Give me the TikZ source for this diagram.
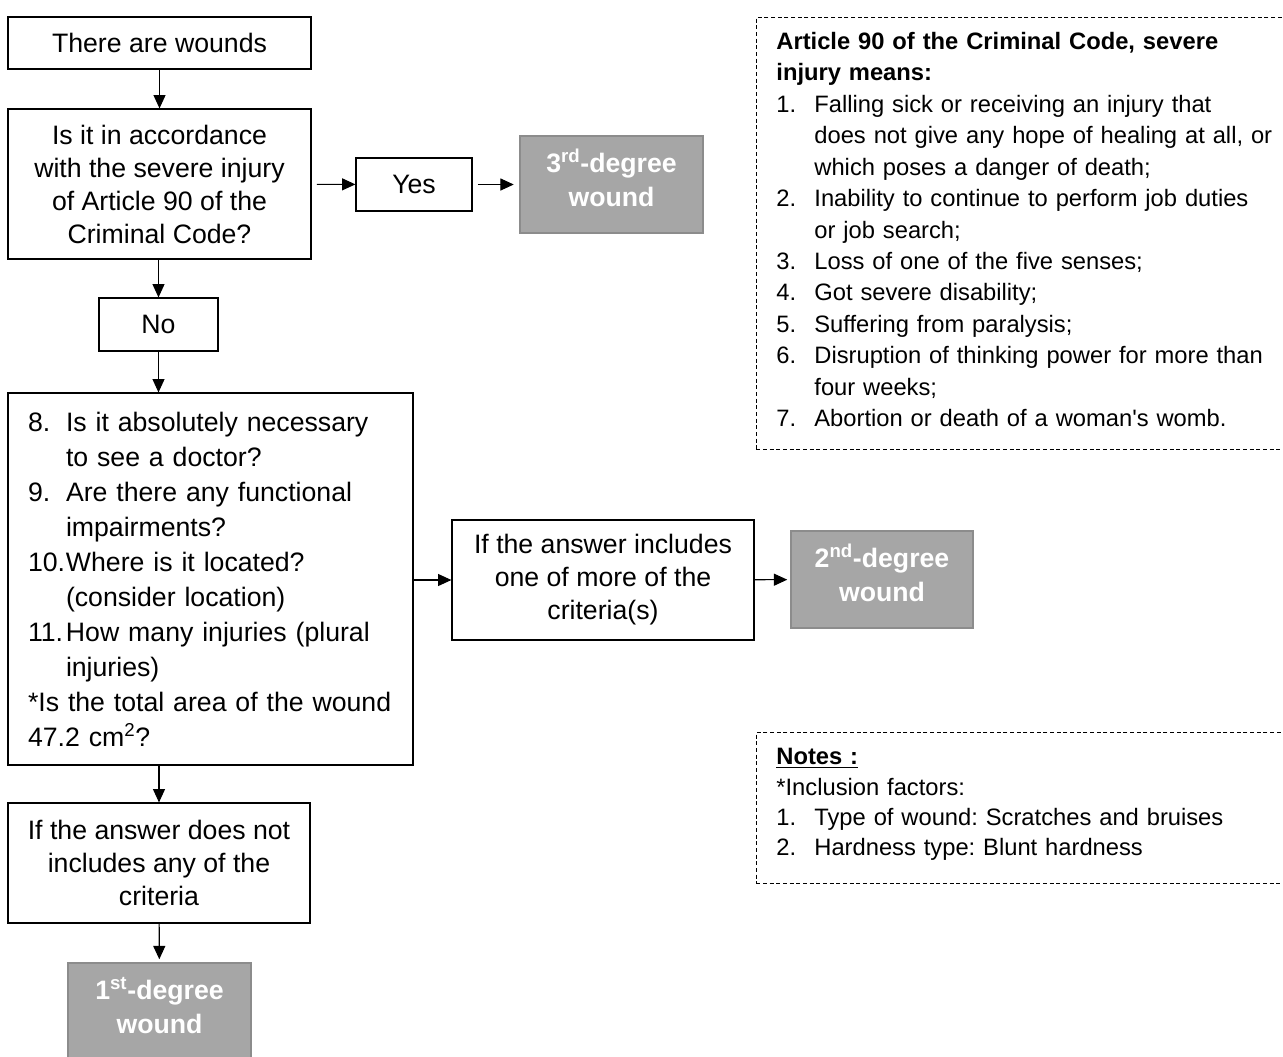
\documentclass[tikz,border=0pt]{standalone}
\usepackage{fontspec}
\setmainfont{Liberation Sans}
\usetikzlibrary{arrows.meta, positioning, calc}

\definecolor{degreefill}{HTML}{A6A6A6}
\definecolor{degreeline}{HTML}{8C8C8C}
\newcommand{\numitem}[1]{\makebox[28.5pt][l]{#1}}
\newcommand{\supr}[1]{\smash{\textsuperscript{#1}}}
\newcommand{\lowstrut}[1]{\rule[-#1]{0pt}{#1}}
\frenchspacing

\begin{document}
\begin{tikzpicture}[
    x = 0.75pt, y = -0.75pt,
    every node/.style = {inner sep = 0pt, align = center,
      font = \fontsize{20}{24.75}\selectfont},
    stepbox/.style = {draw, line width = 0.9pt},
    degreebox/.style = {draw = degreeline, fill = degreefill, line width = 1.6pt,
      text = white, font = \fontsize{20}{25.5}\selectfont\bfseries,
      text depth = 7.5pt,
      minimum width = 137pt, minimum height = 72.75pt},
    notebox/.style = {draw, dashed, dash pattern = on 3pt off 2pt, line width = 0.6pt,
      align = left, anchor = north west, font = \fontsize{17.8}{23.6}\selectfont},
    flow/.style = {-{Triangle[length = 10pt, width = 9pt]}, line width = 0.8pt}
  ]
  \useasboundingbox (0,0) rectangle (1283,1057);

  % main column
  \node[stepbox, minimum width = 227.25pt, minimum height = 39pt]
    (wounds) at (159.5,43) {There are wounds};
  \node[stepbox, minimum width = 227.25pt, minimum height = 112.5pt]
    (question) at (159.5,184) {Is it in accordance\\with the severe injury\\of Article 90 of the\\Criminal Code?};
  \node[stepbox, minimum width = 87pt, minimum height = 39.75pt]
    (yes) at (414,184.5) {Yes};
  \node[degreebox] (third) at (611.5,184.5) {3\supr{rd}-degree\\wound};
  \node[stepbox, minimum width = 89.25pt, minimum height = 39.75pt]
    (no) at (158.5,324.5) {No};
  \node[stepbox, minimum width = 303.75pt, minimum height = 279pt,
      inner xsep = 15pt, text width = 273.75pt, align = left,
      font = \fontsize{20}{26.25}\selectfont]
    (checks) at (210.5,579) {%
      \numitem{8.}Is it absolutely necessary\\
      \numitem{}to see a doctor?\\
      \numitem{9.}Are there any functional\\
      \numitem{}impairments?\\
      \numitem{10.}Where is it located?\\
      \numitem{}(consider location)\\
      \numitem{11.}How many injuries (plural\\
      \numitem{}injuries)\\
      {*}Is the total area of the wound\\
      47.2 cm\supr{2}?};
  \node[stepbox, minimum width = 226.5pt, minimum height = 90pt]
    (criteria) at (603,580) {If the answer includes\\one of more of the\\criteria(s)};
  \node[degreebox, minimum width = 136.5pt] (second) at (882,579.5) {2\supr{nd}-degree\\wound};
  \node[stepbox, minimum width = 226.5pt, minimum height = 90pt]
    (nocrit) at (159,863) {If the answer does not\\includes any of the\\criteria};
  \node[degreebox] (first) at (159.5,1011.5) {1\supr{st}-degree\\wound};

  % side notes
  \node[notebox, minimum width = 405pt, minimum height = 324pt,
      inner xsep = 15pt, text width = 420pt]
    (article) at (756,17) {%
      \textbf{Article 90 of the Criminal Code, severe}\\
      \textbf{injury means:}\\
      \numitem{1.}Falling sick or receiving an injury that\\
      \numitem{}does not give any hope of healing at all, or\\
      \numitem{}which poses a danger of death;\\
      \numitem{2.}Inability to continue to perform job duties\\
      \numitem{}or job search;\\
      \numitem{3.}Loss of one of the five senses;\\
      \numitem{4.}Got severe disability;\\
      \numitem{5.}Suffering from paralysis;\\
      \numitem{6.}Disruption of thinking power for more than\\
      \numitem{}four weeks;\\
      \numitem{7.}Abortion or death of a woman\textquotesingle s womb.\lowstrut{6pt}};
  \node[notebox, minimum width = 405pt, minimum height = 113.25pt,
      inner xsep = 15pt, text width = 420pt,
      font = \fontsize{17.8}{22.6}\selectfont]
    (notes) at (756,732) {%
      \textbf{\underline{Notes :}}\\
      {*}Inclusion factors:\\
      \numitem{1.}Type of wound: Scratches and bruises\\
      \numitem{2.}Hardness type: Blunt hardness\lowstrut{9pt}};

  % connectors
  \draw[flow] (wounds) -- (question);
  \draw[flow, shorten <= 4pt] (question) -- (yes);
  \draw[flow, shorten <= 4pt, shorten >= 4pt] (yes) -- (third);
  \draw[flow] (question.south -| no) -- (no);
  \draw[flow] (no) -- (no |- checks.north);
  \draw[flow] (checks.east |- criteria) -- (criteria);
  \draw[flow, shorten >= 2pt] (criteria) -- (second);
  \draw[flow] (nocrit |- checks.south) -- (nocrit);
  \draw[flow, shorten >= 2pt] (nocrit) -- (first);
\end{tikzpicture}
\end{document}
